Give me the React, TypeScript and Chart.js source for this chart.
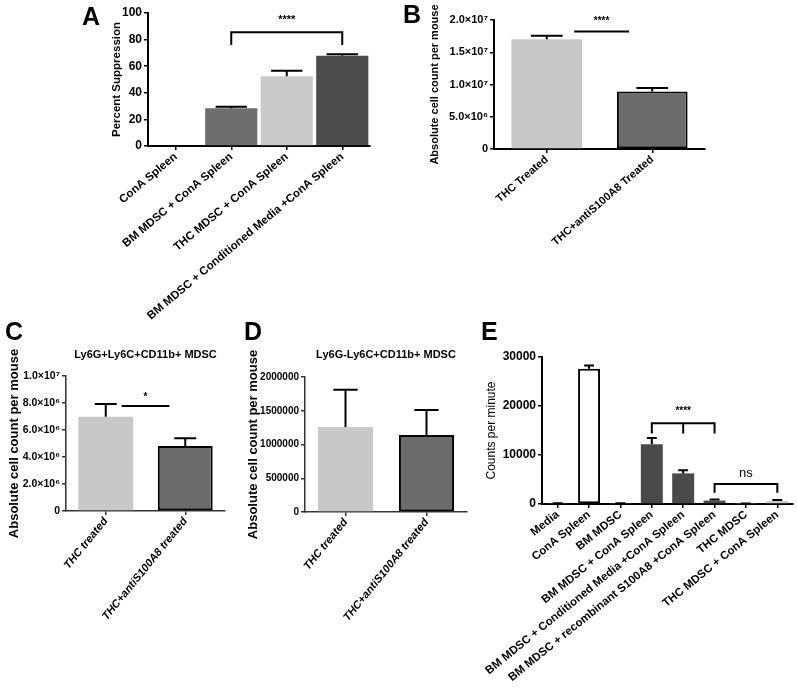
import React, { useEffect, useRef } from "react";
import { Chart, registerables } from "chart.js";

Chart.register(...registerables);

const FONT = "'Liberation Sans', Arial, Helvetica, sans-serif";
Chart.defaults.font.family = FONT;
Chart.defaults.color = "#000";

// ---------- Panel A ----------
const categoriesA = [
  "ConA Spleen",
  "BM MDSC + ConA Spleen",
  "THC MDSC + ConA Spleen",
  "BM MDSC + Conditioned Media +ConA Spleen",
];
const meansA = [0, 28.3, 52.5, 67.8];
const errorsA = [0, 1.2, 4.0, 1.2];
const tickLabelsA = ["0", "20", "40", "60", "80", "100"];

// ---------- Panel B ----------
const categoriesB = ["THC Treated", "THC+antiS100A8 Treated"];
const meansB = [1.7e7, 8.9e6];
const errorsB = [0.55e6, 0.55e6];
const tickLabelsB = ["0", "5.0×10⁶", "1.0×10⁷", "1.5×10⁷", "2.0×10⁷"];

// ---------- Panel C ----------
const categoriesC = ["THC treated", "THC+antiS100A8 treated"];
const meansC = [6.98e6, 4.81e6];
const errorsC = [0.95e6, 0.57e6];
const tickLabelsC = ["0", "2.0×10⁶", "4.0×10⁶", "6.0×10⁶", "8.0×10⁶", "1.0×10⁷"];

// ---------- Panel D ----------
const categoriesD = ["THC treated", "THC+antiS100A8 treated"];
const meansD = [1.26e6, 1.14e6];
const errorsD = [0.55e6, 0.37e6];
const tickLabelsD = ["0", "500000", "1000000", "1500000", "2000000"];

// ---------- Panel E ----------
const categoriesE = [
  "Media",
  "ConA Spleen",
  "BM MDSC",
  "BM MDSC + ConA Spleen",
  "BM MDSC + Conditioned Media +ConA Spleen",
  "BM MDSC + recombinant S100A8 +ConA Spleen",
  "THC MDSC",
  "THC MDSC + ConA Spleen",
];
const meansE = [110, 27600, 100, 12200, 6250, 700, 80, 600];
const errorsE = [30, 650, 30, 1250, 650, 200, 30, 200];
const tickLabelsE = ["0", "10000", "20000", "30000"];

type Bracket = {
  x1: number;
  x2: number;
  y: number;
  legTo?: number;
  mids?: number[];
  text: string;
  textY: number;
  font: string;
};

type Spec = {
  box: { x: number; y: number; w: number; h: number };
  area: { left: number; top: number; right: number; bottom: number };
  cats: string[];
  means: number[];
  errs: number[];
  colors: string[];
  borders: number[];
  barPct: number;
  capFrac: number;
  yMax: number;
  yStep: number;
  yLabels: string[];
  yFont: any;
  xFont: any;
  xRot: number;
  yTitle: string;
  yTitleX: number;
  yTitleFont: any;
  axisColor: string;
  axisWidth: number;
  letter: { text: string; x: number; y: number };
  title?: { text: string; y: number; font: string };
  brackets: Bracket[];
};

const specs: Spec[] = [
  {
    box: { x: 60, y: 0, w: 320, h: 330 },
    area: { left: 148, top: 13, right: 370, bottom: 146 },
    cats: categoriesA,
    means: meansA,
    errs: errorsA,
    colors: ["#888888", "#6e6e6e", "#c9c9c9", "#4b4b4b"],
    borders: [0, 0, 0, 0],
    barPct: 0.94,
    capFrac: 0.6,
    yMax: 100,
    yStep: 20,
    yLabels: tickLabelsA,
    yFont: { size: 12, weight: "bold" },
    xFont: { size: 11.5, weight: "bold" },
    xRot: 40,
    yTitle: "Percent Suppression",
    yTitleX: 117,
    yTitleFont: { size: 11.5, weight: "bold" },
    axisColor: "#000",
    axisWidth: 2,
    letter: { text: "A", x: 82, y: 25 },
    brackets: [
      { x1: 1, x2: 3, y: 85.5, legTo: 76, text: "****", textY: 94.5, font: `bold 11px ${FONT}` },
    ],
  },
  {
    box: { x: 398, y: 0, w: 317, h: 320 },
    area: { left: 494, top: 20, right: 705, bottom: 149 },
    cats: categoriesB,
    means: meansB,
    errs: errorsB,
    colors: ["#c8c8c8", "#6b6b6b"],
    borders: [0, 2],
    barPct: 0.67,
    capFrac: 0.45,
    yMax: 2e7,
    yStep: 5e6,
    yLabels: tickLabelsB,
    yFont: { size: 11, weight: "bold" },
    xFont: { size: 11, weight: "bold" },
    xRot: 41,
    yTitle: "Absolute cell count per mouse",
    yTitleX: 435,
    yTitleFont: { size: 11, weight: "bold" },
    axisColor: "#000",
    axisWidth: 2,
    letter: { text: "B", x: 403, y: 23 },
    brackets: [
      { x1: 0.26, x2: 0.78, y: 1.82e7, text: "****", textY: 1.98e7, font: `bold 10px ${FONT}` },
    ],
  },
  {
    box: { x: 0, y: 300, w: 235, h: 400 },
    area: { left: 66, top: 376, right: 225, bottom: 511 },
    cats: categoriesC,
    means: meansC,
    errs: errorsC,
    colors: ["#c8c8c8", "#6b6b6b"],
    borders: [0, 2],
    barPct: 0.69,
    capFrac: 0.4,
    yMax: 1e7,
    yStep: 2e6,
    yLabels: tickLabelsC,
    yFont: { size: 10.5, weight: "bold" },
    xFont: { size: 11, weight: "bold", style: "italic" },
    xRot: 51,
    yTitle: "Absolute cell count per mouse",
    yTitleX: 14,
    yTitleFont: { size: 13, weight: "bold" },
    axisColor: "#333",
    axisWidth: 1.5,
    letter: { text: "C", x: 5, y: 340 },
    title: { text: "Ly6G+Ly6C+CD11b+ MDSC", y: 355, font: `bold 11px ${FONT}` },
    brackets: [
      { x1: 0.2, x2: 0.8, y: 7.78e6, text: "*", textY: 8.4e6, font: `bold 10px ${FONT}` },
    ],
  },
  {
    box: { x: 240, y: 300, w: 237, h: 400 },
    area: { left: 305, top: 377, right: 467, bottom: 512 },
    cats: categoriesD,
    means: meansD,
    errs: errorsD,
    colors: ["#c8c8c8", "#6b6b6b"],
    borders: [0, 2],
    barPct: 0.68,
    capFrac: 0.44,
    yMax: 2e6,
    yStep: 5e5,
    yLabels: tickLabelsD,
    yFont: { size: 10, weight: "bold" },
    xFont: { size: 11, weight: "bold", style: "italic" },
    xRot: 51,
    yTitle: "Absolute cell count per mouse",
    yTitleX: 253,
    yTitleFont: { size: 13, weight: "bold" },
    axisColor: "#333",
    axisWidth: 1.5,
    letter: { text: "D", x: 244, y: 340 },
    title: { text: "Ly6G-Ly6C+CD11b+ MDSC", y: 355, font: `bold 11px ${FONT}` },
    brackets: [],
  },
  {
    box: { x: 478, y: 300, w: 319, h: 400 },
    area: { left: 542, top: 357, right: 793, bottom: 504 },
    cats: categoriesE,
    means: meansE,
    errs: errorsE,
    colors: ["#777777", "#ffffff", "#777777", "#4a4a4a", "#4a4a4a", "#4a4a4a", "#777777", "#c8c8c8"],
    borders: [0, 2, 0, 0, 0, 0, 0, 0],
    barPct: 0.7,
    capFrac: 0.45,
    yMax: 30000,
    yStep: 10000,
    yLabels: tickLabelsE,
    yFont: { size: 12, weight: "bold" },
    xFont: { size: 11.5, weight: "bold" },
    xRot: 39,
    yTitle: "Counts per minute",
    yTitleX: 492,
    yTitleFont: { size: 12, weight: "normal" },
    axisColor: "#000",
    axisWidth: 2,
    letter: { text: "E", x: 481, y: 340 },
    brackets: [
      { x1: 3, x2: 5, y: 16500, legTo: 14400, mids: [4], text: "****", textY: 18900, font: `bold 10px ${FONT}` },
      { x1: 5, x2: 7, y: 4070, legTo: 2300, text: "ns", textY: 6300, font: `13px ${FONT}` },
    ],
  },
];

function annotPlugin(s: Spec) {
  return {
    id: "annot",
    afterDatasetsDraw(chart: any) {
      const ctx = chart.ctx as CanvasRenderingContext2D;
      const xs = chart.scales.x;
      const ys = chart.scales.y;
      const meta = chart.getDatasetMeta(0);
      ctx.save();
      ctx.strokeStyle = "#000";
      ctx.lineWidth = 2;
      // error bars (upper SEM)
      meta.data.forEach((el: any, i: number) => {
        const e = s.errs[i];
        if (!e) return;
        const m = s.means[i];
        const yt = ys.getPixelForValue(m);
        const ye = ys.getPixelForValue(m + e);
        const half = (el.width * s.capFrac) / 2;
        ctx.beginPath();
        ctx.moveTo(el.x, yt);
        ctx.lineTo(el.x, ye);
        ctx.moveTo(el.x - half, ye);
        ctx.lineTo(el.x + half, ye);
        ctx.stroke();
      });
      // significance brackets
      s.brackets.forEach((b) => {
        const x1 = xs.getPixelForValue(b.x1);
        const x2 = xs.getPixelForValue(b.x2);
        const y = ys.getPixelForValue(b.y);
        ctx.beginPath();
        if (b.legTo !== undefined) {
          const yl = ys.getPixelForValue(b.legTo);
          ctx.moveTo(x1, yl);
          ctx.lineTo(x1, y);
          ctx.lineTo(x2, y);
          ctx.lineTo(x2, yl);
          (b.mids || []).forEach((v) => {
            const px = xs.getPixelForValue(v);
            ctx.moveTo(px, y);
            ctx.lineTo(px, yl);
          });
        } else {
          ctx.moveTo(x1, y);
          ctx.lineTo(x2, y);
        }
        ctx.stroke();
        ctx.fillStyle = "#000";
        ctx.font = b.font;
        ctx.textAlign = "center";
        ctx.textBaseline = "middle";
        ctx.fillText(b.text, (x1 + x2) / 2, ys.getPixelForValue(b.textY));
      });
      // panel title
      if (s.title) {
        const ca = chart.chartArea;
        ctx.fillStyle = "#000";
        ctx.font = s.title.font;
        ctx.textAlign = "center";
        ctx.textBaseline = "middle";
        ctx.fillText(s.title.text, (ca.left + ca.right) / 2, s.title.y - s.box.y);
      }
      // panel letter
      ctx.fillStyle = "#000";
      ctx.font = `bold 25px ${FONT}`;
      ctx.textAlign = "left";
      ctx.textBaseline = "alphabetic";
      ctx.fillText(s.letter.text, s.letter.x - s.box.x, s.letter.y - s.box.y);
      ctx.restore();
    },
  };
}

function buildConfig(s: Spec): any {
  const yW = s.area.left - s.box.x;
  const xH = s.box.y + s.box.h - s.area.bottom;
  const padTop = s.area.top - s.box.y;
  const padRight = s.box.x + s.box.w - s.area.right;
  const lh = s.yTitleFont.size * 1.2;
  const titlePad = Math.max(0, s.yTitleX - s.box.x - lh / 2);
  return {
    type: "bar",
    data: {
      labels: s.cats,
      datasets: [
        {
          data: s.means,
          backgroundColor: s.colors,
          borderColor: "#000",
          borderWidth: s.borders,
          borderSkipped: false,
          barPercentage: s.barPct,
          categoryPercentage: 1,
        },
      ],
    },
    options: {
      responsive: false,
      animation: false,
      events: [],
      layout: { padding: { left: 0, top: padTop, right: padRight, bottom: 0 } },
      plugins: { legend: { display: false }, tooltip: { enabled: false } },
      scales: {
        x: {
          type: "category",
          offset: true,
          grid: {
            display: true,
            drawOnChartArea: false,
            drawTicks: true,
            tickLength: 4,
            offset: false,
            color: s.axisColor,
            lineWidth: 1.5,
          },
          border: { display: true, color: s.axisColor, width: s.axisWidth },
          ticks: {
            minRotation: s.xRot,
            maxRotation: s.xRot,
            autoSkip: false,
            padding: 0,
            color: "#000",
            font: s.xFont,
          },
          afterFit: (sc: any) => {
            sc.height = xH;
          },
        },
        y: {
          min: 0,
          max: s.yMax,
          grid: {
            display: true,
            drawOnChartArea: false,
            drawTicks: true,
            tickLength: 4,
            color: s.axisColor,
            lineWidth: 1.5,
          },
          border: { display: true, color: s.axisColor, width: s.axisWidth },
          ticks: {
            stepSize: s.yStep,
            padding: 2,
            color: "#000",
            font: s.yFont,
            callback: (v: number) => s.yLabels[Math.round(v / s.yStep)] ?? "",
          },
          title: {
            display: true,
            text: s.yTitle,
            color: "#000",
            font: s.yTitleFont,
            padding: { top: titlePad, bottom: 0 },
          },
          afterFit: (sc: any) => {
            sc.width = yW;
          },
        },
      },
    },
    plugins: [annotPlugin(s)],
  };
}

function Panel({ spec }: { spec: Spec }) {
  const ref = useRef<HTMLCanvasElement>(null);
  useEffect(() => {
    const chart = new Chart(ref.current as HTMLCanvasElement, buildConfig(spec));
    return () => chart.destroy();
  }, [spec]);
  const { x, y, w, h } = spec.box;
  return (
    <div style={{ position: "absolute", left: x, top: y, width: w, height: h }}>
      <canvas ref={ref} width={w} height={h} style={{ width: w, height: h, display: "block" }} />
    </div>
  );
}

export default function App() {
  return (
    <div
      style={{
        position: "absolute",
        left: 0,
        top: 0,
        width: 797,
        height: 700,
        background: "#fff",
        overflow: "hidden",
      }}
    >
      {specs.map((s, i) => (
        <Panel key={i} spec={s} />
      ))}
    </div>
  );
}
